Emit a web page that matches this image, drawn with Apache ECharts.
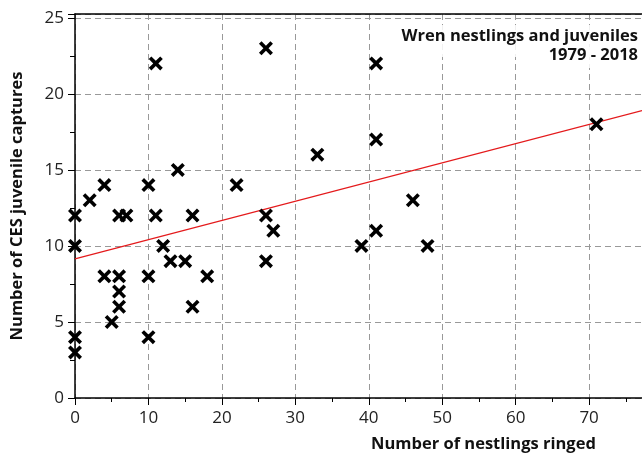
<!DOCTYPE html>
<html><head><meta charset="utf-8">
<script src="https://cdn.jsdelivr.net/npm/echarts@6/dist/echarts.min.js"></script>
<style>html,body{margin:0;padding:0;background:#fff}#c{width:642px;height:457px}</style>
</head><body><div id="c"></div>
<script>
const nestlings = [0,0,0,0,2,4,4,5,6,7,6,6,6,10,10,10,11,11,12,13,14,15,16,16,18,22,26,26,26,27,33,39,41,41,41,46,48,71];
const juveniles = [12,10,4,3,13,14,8,5,12,12,8,7,6,14,8,4,22,12,10,9,15,9,12,6,8,14,23,12,9,11,16,10,22,17,11,13,10,18];
const fitX = [0, 77.2];
const fitY = [9.15, 18.9];
const titleLines = ['Wren nestlings and juveniles', '1979 - 2018'];
const xName = 'Number of nestlings ringed';
const yName = 'Number of CES juvenile captures';

const font = 'Open Sans';
const chart = echarts.init(document.getElementById('c'), null, {renderer: 'canvas'});
const cross = 'path://M0,2.2L2.2,0L6,3.8L9.8,0L12,2.2L8.2,6L12,9.8L9.8,12L6,8.2L2.2,12L0,9.8L3.8,6Z';
const titleStyle = {fontFamily: font, fontWeight: 'bold', fontSize: 16.5, color: '#111'};
chart.setOption({
  animation: false,
  backgroundColor: '#fff',
  grid: {left: 75, top: 14, right: 0, bottom: 59, containLabel: false, outerBoundsMode: 'none'},
  title: [{
    text: titleLines[0], right: 4, top: 25,
    backgroundColor: 'rgba(255,255,255,0.85)',
    padding: [3, 0, 12, 6],
    textStyle: titleStyle
  }, {
    text: titleLines[1], right: 4, top: 47,
    backgroundColor: 'rgba(255,255,255,0.85)',
    padding: [0, 0, 4, 6],
    textStyle: titleStyle
  }],
  xAxis: [{
    type: 'value', min: 0, max: 77.2, interval: 10,
    axisLine: {show: true, onZero: false, lineStyle: {color: '#000', width: 1.5}},
    axisTick: {show: true, length: 7, lineStyle: {color: '#000'}},
    minorTick: {show: true, splitNumber: 2, length: 4, lineStyle: {color: '#000'}},
    axisLabel: {fontFamily: font, fontSize: 17, color: '#222', margin: 12, showMaxLabel: false},
    splitLine: {show: true, lineStyle: {color: '#999', type: [6, 4], width: 1}}
  }, {
    type: 'value', min: 0, max: 77.2, position: 'top',
    axisLine: {show: true, onZero: false, lineStyle: {color: '#000', width: 1.5}},
    axisTick: {show: false}, axisLabel: {show: false}, splitLine: {show: false}
  }],
  yAxis: {
    type: 'value', min: 0, max: 25.25, interval: 5,
    name: yName, nameLocation: 'middle', nameRotate: 90, nameGap: 49,
    nameTextStyle: {fontFamily: font, fontWeight: 'bold', fontSize: 16.5, color: '#111'},
    axisLine: {show: true, onZero: false, lineStyle: {color: '#000', width: 1.5}},
    axisTick: {show: true, length: 7, lineStyle: {color: '#000'}},
    minorTick: {show: true, splitNumber: 2, length: 5, lineStyle: {color: '#000'}},
    axisLabel: {fontFamily: font, fontSize: 17, color: '#222', margin: 11, showMaxLabel: false},
    splitLine: {show: true, lineStyle: {color: '#999', type: [6, 4], width: 1}}
  },
  graphic: [{
    type: 'text', left: 371, top: 436,
    style: {text: xName, font: 'bold 16.5px "Open Sans"', fill: '#111'}
  }],
  series: [{
    type: 'line', data: fitX.map((x, i) => [x, fitY[i]]),
    symbol: 'none', lineStyle: {color: '#e41a1c', width: 1.2}, z: 3
  }, {
    type: 'scatter', data: nestlings.map((x, i) => [x, juveniles[i]]),
    symbol: cross, symbolSize: 14, itemStyle: {color: '#000', opacity: 1}, z: 4
  }]
});
</script></body></html>
